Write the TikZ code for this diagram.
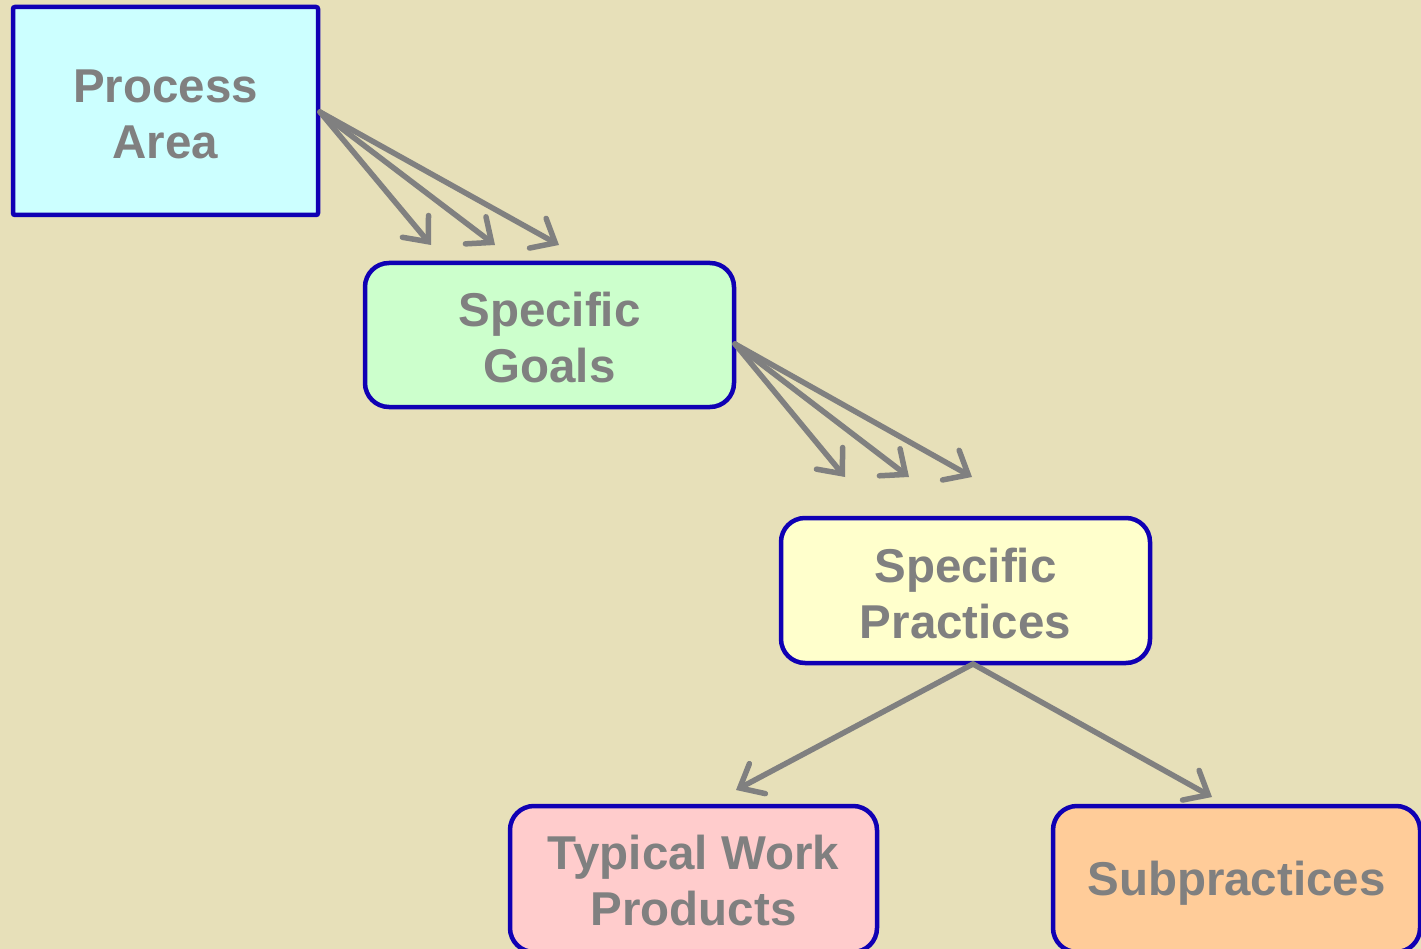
\documentclass[tikz,border=0pt]{standalone}
\usepackage{fontspec}
\setmainfont{Liberation Sans}
\usetikzlibrary{arrows.meta}
\definecolor{bgc}{HTML}{E7E0B9}
\definecolor{edgeblue}{HTML}{1000B4}
\definecolor{txtgray}{HTML}{808080}
\definecolor{pacol}{HTML}{CCFFFF}
\definecolor{sgcol}{HTML}{CCFFCC}
\definecolor{spcol}{HTML}{FFFFCC}
\definecolor{twcol}{HTML}{FFCCCC}
\definecolor{subcol}{HTML}{FFCC99}
\tikzset{
  boxbase/.style={draw=edgeblue, line width=4.5pt, inner sep=0pt},
  sqbox/.style={boxbase, rounded corners=2pt},
  rbox/.style={boxbase, rounded corners=24pt},
  lbl/.style={text=txtgray, align=center, inner sep=0pt,
    font=\fontsize{47.5}{56}\selectfont\bfseries},
  conn/.style={draw=txtgray, line width=5.5pt, line cap=round, line join=round,
    -{Straight Barb[length=20pt, width=34pt, line cap=round]}}
}
\begin{document}
\begin{tikzpicture}[x=1pt,y=-1pt]
\fill[bgc] (0,0) rectangle (1421,949);
\useasboundingbox (0,0) rectangle (1421,949);
\begin{scope}
\clip (0,0) rectangle (1421,949);
\node[sqbox, fill=pacol, minimum width=305pt, minimum height=208pt] (pa) at (165.5,111) {};
\node[rbox, fill=sgcol, minimum width=369pt, minimum height=144pt] (sg) at (549.5,335) {};
\node[rbox, fill=spcol, minimum width=369pt, minimum height=145pt] (sp) at (965.5,590.5) {};
\node[rbox, fill=twcol, minimum width=367pt, minimum height=146pt] (tw) at (693.5,879) {};
\node[rbox, fill=subcol, minimum width=367pt, minimum height=146pt] (sub) at (1236.5,879) {};
\end{scope}
\node[lbl] (paL) at ([yshift=-3pt]pa.center) {Process\\Area};
\node[lbl] (sgL) at ([yshift=-3pt]sg.center) {Specific\\Goals};
\node[lbl] (spL) at ([yshift=-3pt]sp.center) {Specific\\Practices};
\node[lbl] (twL) at ([yshift=-2pt]tw.center) {Typical Work\\Products};
\node[lbl] (subL) at ([yshift=-4pt]sub.center) {Subpractices};
\coordinate (pas) at (320,112);
\coordinate (t1) at (431,245);
\coordinate (t2) at (495,245);
\coordinate (t3) at (559,245);
\coordinate (sgs) at (735,344);
\coordinate (u1) at (845,477);
\coordinate (u2) at (909,477);
\coordinate (u3) at (972,477);
\coordinate (sps) at (973,664);
\coordinate (v1) at (736,790);
\coordinate (v2) at (1212,797);
\draw[conn] (pas) -- (t1);
\draw[conn] (pas) -- (t2);
\draw[conn] (pas) -- (t3);
\draw[conn] (sgs) -- (u1);
\draw[conn] (sgs) -- (u2);
\draw[conn] (sgs) -- (u3);
\draw[conn] (sps) -- (v1);
\draw[conn] (sps) -- (v2);
\end{tikzpicture}
\end{document}
